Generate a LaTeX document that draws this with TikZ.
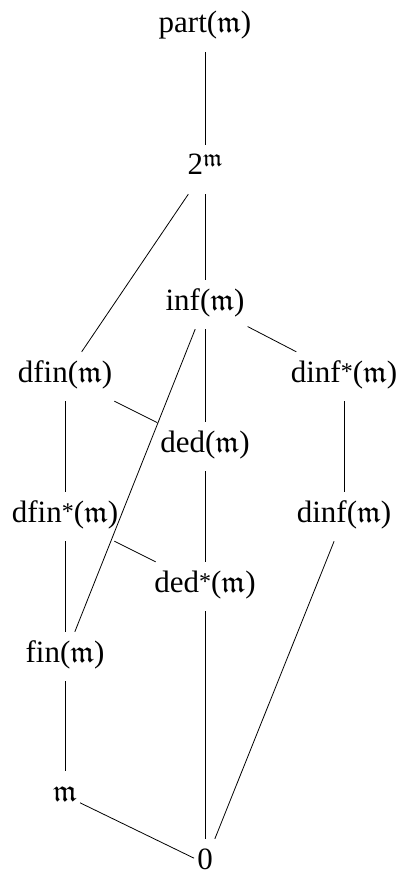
\documentclass[tikz,border=0pt]{standalone}
\usepackage{amssymb}
\usepackage{fontspec}
\setmainfont{Liberation Serif}
\begin{document}
\begin{tikzpicture}[x=1pt,y=-1pt,
  every node/.style={font=\fontsize{31}{36}\selectfont, anchor=base,
    text height=28pt, text depth=17pt, inner ysep=2pt, inner xsep=3pt},
  edge/.style={line width=0.8pt, black}]
\useasboundingbox (0,0) rectangle (398,874);
\newcommand{\mm}{\ensuremath{\mathfrak{m}}}
\newcommand{\st}{\raisebox{3pt}{\fontsize{24}{24}\selectfont *}}
\node (part) at (205,33) {part(\mm)};
\node (two) at (205,175) {2\raisebox{8pt}{\fontsize{25}{25}\selectfont\mm}};
\node (inf) at (205,310) {inf(\mm)};
\node (dfin) at (65,382) {dfin(\mm)};
\node (dinfs) at (344,382) {dinf\st(\mm)};
\node (ded) at (205,452) {ded(\mm)};
\node (dfins) at (65,522) {dfin\st(\mm)};
\node (dinf) at (344,522) {dinf(\mm)};
\node (deds) at (205,592) {ded\st(\mm)};
\node (fin) at (65,662) {fin(\mm)};
\node (m) at (65,801) {\mm};
\node (zero) at (205,869) {0};
\draw[edge] (part) -- (two);
\draw[edge] (two) -- (inf);
\draw[edge] (two) -- (dfin);
\draw[edge] (inf) -- (dinfs);
\draw[edge] (inf) -- (ded);
\draw[edge] (inf) -- (fin);
\draw[edge] (dfin) -- (ded);
\draw[edge] (dfin) -- (dfins);
\draw[edge] (dinfs) -- (dinf);
\draw[edge] (ded) -- (deds);
\draw[edge] (dfins) -- (deds);
\draw[edge] (dfins) -- (fin);
\draw[edge] (deds) -- (zero);
\draw[edge] (dinf) -- (zero);
\draw[edge] (fin) -- (m);
\draw[edge] (m) -- (zero);
\end{tikzpicture}
\end{document}
